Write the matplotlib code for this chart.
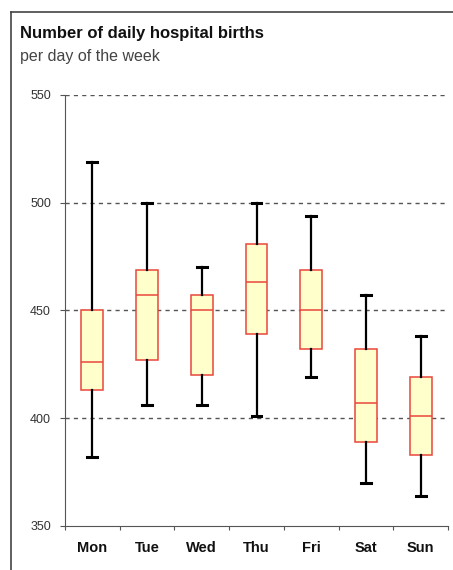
import matplotlib.pyplot as plt
from matplotlib.lines import Line2D

days = ["Mon", "Tue", "Wed", "Thu", "Fri", "Sat", "Sun"]
whisker_low = [382, 406, 406, 401, 419, 370, 364]
q1 = [413, 427, 420, 439, 432, 389, 383]
median = [426, 457, 450, 463, 450, 407, 401]
q3 = [450, 469, 457, 481, 469, 432, 419]
whisker_high = [519, 500, 470, 500, 494, 457, 438]

y_ticks = [350, 400, 450, 500, 550]

W, H = 453, 570
fig = plt.figure(figsize=(W / 100, H / 100), dpi=100)
fig.patch.set_facecolor("white")

# axes box in pixel coords: x 65..448, y 95..526
ax = fig.add_axes([65 / W, 1 - 526 / H, (448 - 65) / W, (526 - 95) / H])

stats = []
for i, d in enumerate(days):
    stats.append(dict(label=d, whislo=whisker_low[i], q1=q1[i], med=median[i],
                      q3=q3[i], whishi=whisker_high[i], fliers=[]))

red = "#e8463c"
ax.bxp(stats, positions=range(len(days)), widths=0.4, capwidths=0.18,
       patch_artist=True, showfliers=False,
       boxprops=dict(facecolor="#ffffcc", edgecolor=red, linewidth=1.1),
       medianprops=dict(color=red, linewidth=1.1),
       whiskerprops=dict(color="black", linewidth=1.6),
       capprops=dict(color="black", linewidth=2.2),
       zorder=3)

ax.set_xlim(-0.5, len(days) - 0.5)
ax.set_ylim(350, 550)
ax.set_yticks(y_ticks)
ax.set_yticklabels([str(v) for v in y_ticks], fontsize=9, color="#333333",
                   family="Liberation Sans")
for v in y_ticks[1:]:
    ax.axhline(v, color="#555555", linewidth=1.0, linestyle=(0, (3, 3)), zorder=1)

# category ticks sit between the days
ax.set_xticks([i - 0.5 for i in range(len(days) + 1)], minor=False)
ax.set_xticklabels([])
ax.set_xticks(range(len(days)), minor=True)
ax.set_xticklabels(days, minor=True, fontsize=10.5, fontweight="bold",
                   family="Liberation Sans", color="#111111")
ax.tick_params(axis="x", which="minor", length=0, pad=10.5)
ax.tick_params(axis="x", which="major", length=3, color="#555555", direction="out")
ax.tick_params(axis="y", length=3.6, color="#555555", direction="out", pad=6.5)

for s in ["top", "right"]:
    ax.spines[s].set_visible(False)
ax.spines["left"].set_color("#555555")
ax.spines["bottom"].set_color("#555555")
ax.set_facecolor("none")

fig.text(20 / W, 1 - 38 / H, "Number of daily hospital births", fontsize=12,
         fontweight="bold", family="Liberation Sans", color="#111111",
         va="baseline")
fig.text(20 / W, 1 - 61 / H, "per day of the week", fontsize=11.5,
         family="Liberation Sans", color="#444444", va="baseline")

# outer frame (top and left edges)
fig.add_artist(Line2D([11 / W, 1], [1 - 12 / H, 1 - 12 / H], color="#444444",
                      linewidth=1.2, transform=fig.transFigure))
fig.add_artist(Line2D([11 / W, 11 / W], [0, 1 - 12 / H], color="#444444",
                      linewidth=1.2, transform=fig.transFigure))

fig.savefig("out.png", dpi=100)
